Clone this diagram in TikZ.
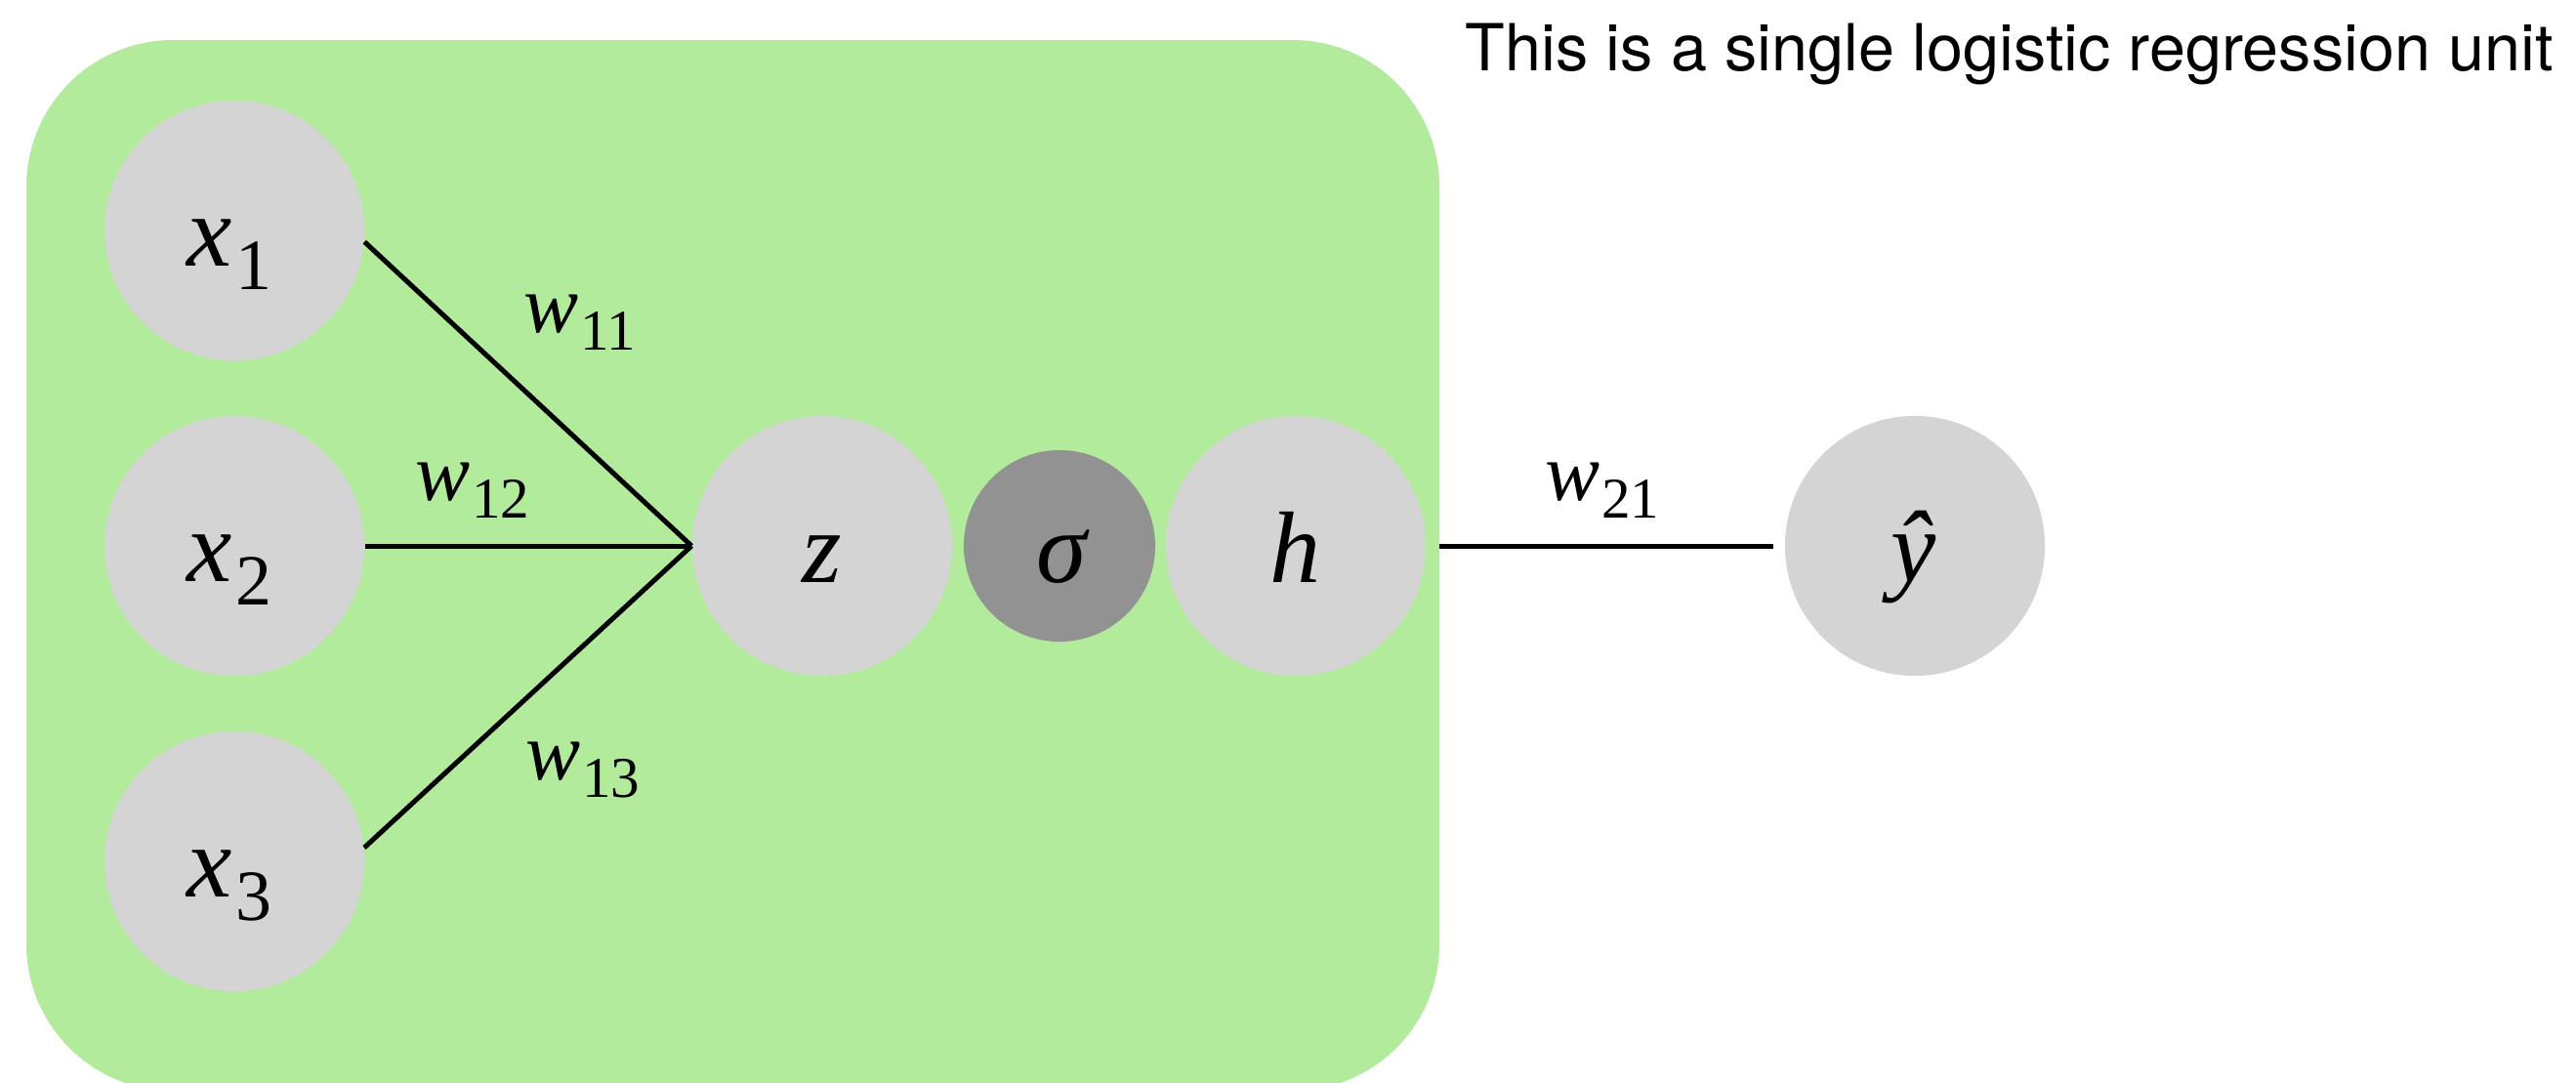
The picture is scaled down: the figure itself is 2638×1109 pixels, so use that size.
\documentclass[tikz,border=0pt]{standalone}
\usepackage{fontspec}
\setmainfont{Liberation Serif}
\newfontfamily\titlefont{TeX Gyre Heros}
\definecolor{boxgreen}{RGB}{178,235,155}
\definecolor{nodegray}{RGB}{212,212,212}
\definecolor{sigmagray}{RGB}{146,146,146}
\newcommand\subsym[2]{{\fontsize{29.6pt}{30pt}\selectfont\itshape #1}\kern1pt\raisebox{-7pt}{\fontsize{21pt}{22pt}\selectfont #2}}
\newcommand\plainsym[1]{{\fontsize{29.6pt}{30pt}\selectfont\itshape #1}}
\newcommand\wsym[1]{{\fontsize{23.9pt}{24pt}\selectfont\itshape w}\kern0.5pt\raisebox{-5.4pt}{\fontsize{16.8pt}{17pt}\selectfont #1}}
\tikzset{
  unitnode/.style={circle, fill=nodegray, minimum size=2.66cm, inner sep=0pt},
  actnode/.style={circle, fill=sigmagray, minimum size=1.96cm, inner sep=0pt},
  conn/.style={line width=1.42pt, black},
  symlab/.style={anchor=base, inner sep=0pt},
}
\begin{document}
\begin{tikzpicture}[x=0.01cm,y=-0.01cm]
\useasboundingbox (0,0) rectangle (2638,1109);
\clip (0,0) rectangle (2638,1109);
% green box
\fill[boxgreen, rounded corners=1.5cm] (27,41) rectangle (1474,1117);
% nodes
\node[unitnode] (x1) at (240,236) {};
\node[unitnode] (x2) at (240,559) {};
\node[unitnode] (x3) at (240,882) {};
\node[unitnode] (z) at (842,559) {};
\node[actnode] (sig) at (1085,559) {};
\node[unitnode] (h) at (1327,559) {};
\node[unitnode] (yhat) at (1961,559) {};
% node labels
\node[symlab] (lx1) at (235,272) {\subsym{x}{1}};
\node[symlab] (lx2) at (235,595) {\subsym{x}{2}};
\node[symlab] (lx3) at (235,918) {\subsym{x}{3}};
\node[symlab] (lz) at (842,596) {\plainsym{z}};
\node[symlab] (lsig) at (1087,596) {\plainsym{σ}};
\node[symlab] (lh) at (1327,596) {\plainsym{h}};
\node[symlab] (lyhat) at (1960,595) {\plainsym{ŷ}};
% connectors
\draw[conn] (x1.-5) -- (z.west);
\draw[conn] (x2.east) -- (z.west);
\draw[conn] (x3.6) -- (z.west);
\draw[conn, shorten <=0.13cm, shorten >=0.11cm] (h.east) -- (yhat.west);
% weight labels
\node[symlab] (w11) at (594,340) {\wsym{11}};
\node[symlab] (w12) at (484,512) {\wsym{12}};
\node[symlab] (w13) at (597,798) {\wsym{13}};
\node[symlab] (w21) at (1641,512) {\wsym{21}};
% title
\node[anchor=base west, inner sep=0pt] (title) at (1500,72)
  {\titlefont\fontsize{18.9pt}{20pt}\selectfont This is a single logistic regression unit};
\end{tikzpicture}
\end{document}
